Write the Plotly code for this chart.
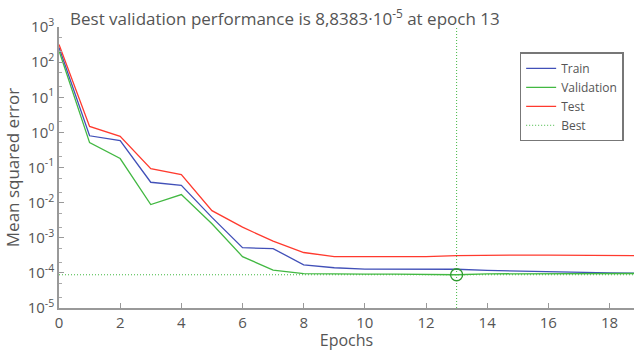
import plotly.graph_objects as go

epochs = list(range(0, 20))
train = [260, 0.8, 0.58, 0.038, 0.031, 0.0038, 0.00052, 0.00049, 0.00017, 0.00014,
         0.000128, 0.000128, 0.000128, 0.000127, 0.000118, 0.000112, 0.00011, 0.000105, 0.0001, 0.000098]
validation = [210, 0.51, 0.18, 0.0088, 0.017, 0.0025, 0.00029, 0.00012, 0.000095, 0.000092,
              0.000092, 0.000092, 0.000091, 0.000088383, 0.000094, 0.000095, 0.000096, 0.000096, 0.000096, 0.000096]
test = [320, 1.48, 0.77, 0.093, 0.063, 0.0059, 0.002, 0.0008, 0.00038, 0.00029,
        0.00029, 0.00029, 0.00029, 0.00031, 0.00032, 0.00032, 0.00032, 0.00032, 0.00032, 0.00031]
best_epoch = 13
best_perf = 8.8383e-5
y_ticks = [1e-5, 1e-4, 1e-3, 1e-2, 1e-1, 1e0, 1e1, 1e2, 1e3]
y_tick_text = ["10<sup>-5</sup>", "10<sup>-4</sup>", "10<sup>-3</sup>", "10<sup>-2</sup>", "10<sup>-1</sup>",
               "10<sup>0</sup>", "10<sup>1</sup>", "10<sup>2</sup>", "10<sup>3</sup>"]
x_ticks = [0, 2, 4, 6, 8, 10, 12, 14, 16, 18]

FONT = "Open Sans, DejaVu Sans, sans-serif"
GREY = "#555555"
C_TRAIN = "#4150b8"
C_VAL = "#42b842"
C_TEST = "#ff3a2e"

fig = go.Figure()
fig.add_trace(go.Scatter(x=epochs, y=train, mode="lines", name="Train",
                         line=dict(color=C_TRAIN, width=1.3)))
fig.add_trace(go.Scatter(x=epochs, y=validation, mode="lines", name="Validation",
                         line=dict(color=C_VAL, width=1.3)))
fig.add_trace(go.Scatter(x=epochs, y=test, mode="lines", name="Test",
                         line=dict(color=C_TEST, width=1.3)))
fig.add_trace(go.Scatter(x=[best_epoch, best_epoch, None, 0, 19],
                         y=[1e-5, 1e3, None, best_perf, best_perf],
                         mode="lines", name="Best",
                         line=dict(color=C_VAL, width=1, dash="1px,2px")))
fig.add_trace(go.Scatter(x=[best_epoch], y=[best_perf], mode="markers", showlegend=False,
                         marker=dict(symbol="circle-open", size=12, color="#2e9a2e",
                                     line=dict(width=1.3, color="#2e9a2e"))))

fig.update_layout(
    width=634, height=351,
    margin=dict(l=59, r=0, t=27, b=43),
    plot_bgcolor="white", paper_bgcolor="white",
    font=dict(family=FONT, color=GREY, size=15),
    title=dict(text="Best validation performance is 8,8383·10<sup>-5</sup> at epoch 13",
               x=70 / 634, xanchor="left", xref="container", y=0.945, yanchor="middle",
               font=dict(size=17, color=GREY, family=FONT)),
    legend=dict(x=0.982, y=0.91, xanchor="right", yanchor="top",
                bordercolor="#777777", borderwidth=1.5, bgcolor="white",
                font=dict(size=12, color=GREY), tracegroupgap=0, itemwidth=30),
    showlegend=True,
)
fig.update_xaxes(range=[0, 18.8], tickvals=x_ticks, ticks="inside", ticklen=5,
                 tickcolor="#999999", showline=True, linecolor="#999999", linewidth=1.5,
                 showgrid=False, zeroline=False, tickfont=dict(size=15), automargin=False,
                 title=dict(text="Epochs", font=dict(size=16), standoff=6))
fig.update_yaxes(type="log", range=[-5, 3], tickvals=y_ticks, ticktext=y_tick_text,
                 ticks="inside", ticklen=5, tickcolor="#999999", showline=True,
                 linecolor="#999999", linewidth=1.5, showgrid=False, zeroline=False,
                 tickfont=dict(size=15),
                 minor=dict(ticks="inside", ticklen=3, tickcolor="#aaaaaa", showgrid=False),
                 title=dict(text="Mean squared error", font=dict(size=17), standoff=4))

fig.write_html("out.html")
